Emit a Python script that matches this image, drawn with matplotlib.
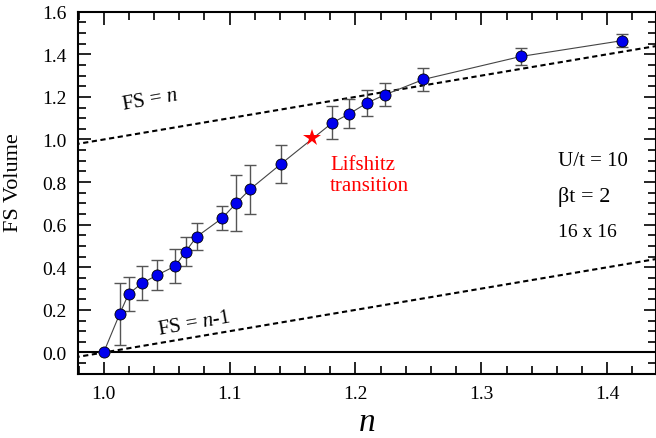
import matplotlib
matplotlib.use("Agg")
import matplotlib.pyplot as plt
from matplotlib.ticker import MultipleLocator

plt.rcParams['font.family'] = ['Liberation Serif', 'DejaVu Serif']
plt.rcParams['mathtext.fontset'] = 'custom'
plt.rcParams['mathtext.rm'] = 'Liberation Serif'
plt.rcParams['mathtext.it'] = 'Liberation Serif:italic'

# Data
density = [1.0, 1.0127, 1.0198, 1.0304, 1.0423, 1.0569, 1.0651, 1.0738, 1.0942,
           1.1053, 1.1164, 1.141, 1.1815, 1.1952, 1.2093, 1.2238, 1.254, 1.3315, 1.4117]
fs_volume = [0.0, 0.181, 0.275, 0.325, 0.363, 0.406, 0.474, 0.543, 0.631,
             0.701, 0.767, 0.886, 1.078, 1.121, 1.172, 1.211, 1.282, 1.39, 1.464]
fs_err = [0.0, 0.146, 0.08, 0.08, 0.069, 0.082, 0.066, 0.063, 0.056,
          0.13, 0.115, 0.088, 0.078, 0.069, 0.06, 0.054, 0.056, 0.04, 0.029]
lifshitz_n = [1.1656]
lifshitz_v = [1.007]
ref_n = [0.97, 1.45]

fig = plt.figure(figsize=(6.56, 4.39), dpi=100)
ax = fig.add_axes([78/656, 64/439, 578/656, 362.3/439])

ax.set_xlim(0.9796, 1.4387)
ax.set_ylim(-0.101, 1.6)

dash = (0, (2.5, 1.7))
ax.plot(ref_n, [v for v in ref_n], color='black', lw=1.5, linestyle=dash, zorder=2)
ax.plot(ref_n, [v - 1 for v in ref_n], color='black', lw=1.5, linestyle=dash, zorder=2)
ax.axhline(0.0, color='black', lw=1.5, zorder=2)

ax.errorbar(density, fs_volume, yerr=fs_err, fmt='none', ecolor='#555555',
            elinewidth=1.0, capsize=4.5, capthick=1.0, zorder=3)
ax.plot(density, fs_volume, color='#444444', lw=0.8, zorder=4)
ax.plot(density, fs_volume, 'o', color='#0000ee', markeredgecolor='black',
        markeredgewidth=0.6, markersize=8, zorder=5)
ax.plot(lifshitz_n, lifshitz_v, '*', color='red', markersize=13, markeredgewidth=0, zorder=6)

ax.xaxis.set_major_locator(MultipleLocator(0.1))
ax.xaxis.set_minor_locator(MultipleLocator(0.02))
ax.yaxis.set_major_locator(MultipleLocator(0.2))
ax.yaxis.set_minor_locator(MultipleLocator(0.05))
ax.xaxis.set_major_formatter(plt.FuncFormatter(lambda v, p: f"{v:.1f}"))
ax.yaxis.set_major_formatter(plt.FuncFormatter(lambda v, p: f"{v:.1f}"))
ax.tick_params(which='both', direction='in', top=True, right=True, width=1.2,
               labelsize=14, colors='black')
ax.tick_params(which='major', length=9, pad=8)
ax.tick_params(which='minor', length=5.5)
for s in ax.spines.values():
    s.set_linewidth(1.5)

ax.set_ylabel("FS Volume", fontsize=16)
ax.yaxis.set_label_coords(-0.095, 0.53)
ax.set_xlabel("$n$", fontsize=24, labelpad=3)


def px(x, y):
    return (x / 656, 1 - y / 439)


fig.text(*px(150, 101), "FS = $n$", fontsize=15, rotation=10, ha='center', va='center')
fig.text(*px(194, 324), "FS = $n$-1", fontsize=15, rotation=10, ha='center', va='center')
fig.text(*px(330, 176), "Lifshitz\ntransition", fontsize=15, color='red',
         ha='left', va='center', linespacing=1.15)
fig.text(*px(558, 162), "U/t = 10", fontsize=15, ha='left', va='center')
fig.text(*px(558, 197), "βt = 2", fontsize=16, ha='left', va='center')
fig.text(*px(558, 233), "16 x 16", fontsize=14, ha='left', va='center')

fig.savefig("out.png", dpi=100)
